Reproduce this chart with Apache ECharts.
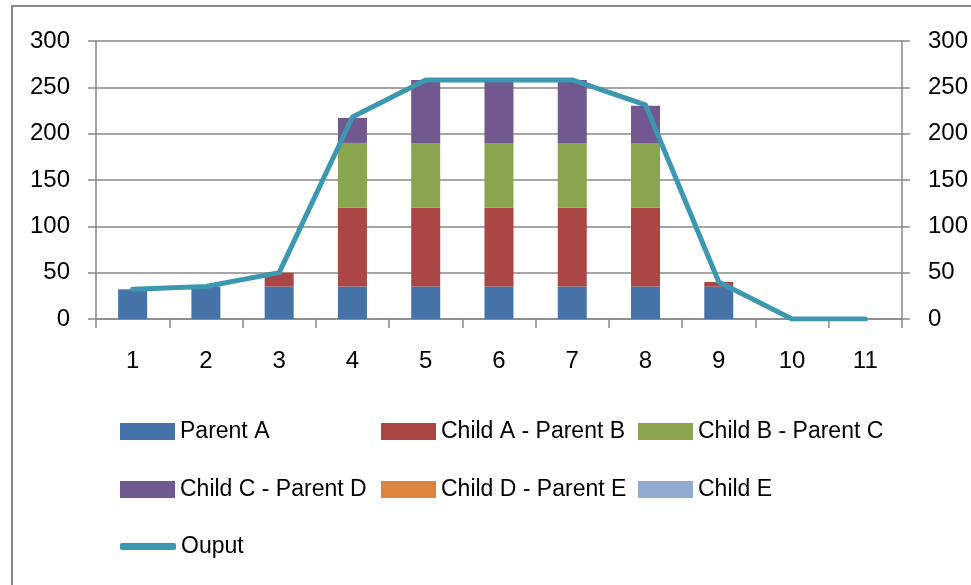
<!DOCTYPE html>
<html>
<head>
<meta charset="utf-8">
<script src="https://cdn.jsdelivr.net/npm/echarts@6/dist/echarts.min.js"></script>
<style>
  html, body { margin: 0; padding: 0; background: #fff; }
  #chart { width: 971px; height: 585px; }
</style>
</head>
<body>
<div id="chart"></div>
<script>
// values
var categories = ['1', '2', '3', '4', '5', '6', '7', '8', '9', '10', '11'];
var parentA = [32, 35, 35, 35, 35, 35, 35, 35, 35, 0, 0];
var childA = [0, 0, 15, 85, 85, 85, 85, 85, 5, 0, 0];
var childB = [0, 0, 0, 70, 70, 70, 70, 70, 0, 0, 0];
var childC = [0, 0, 0, 27, 68, 68, 68, 40, 0, 0, 0];
var childD = [0, 0, 0, 0, 0, 0, 0, 0, 0, 0, 0];
var childE = [0, 0, 0, 0, 0, 0, 0, 0, 0, 0, 0];
var output = [32, 35, 50, 218, 258, 258, 258, 231, 40, 0, 0];

var font = '"Liberation Sans", Arial, sans-serif';
var gray = '#888888';

function bar(name, data, color) {
    return {
        name: name,
        type: 'bar',
        stack: 'total',
        barWidth: 29,
        data: data,
        itemStyle: {color: color},
        emphasis: {disabled: true}
    };
}

// one legend per entry so the columns line up like the original
function leg(name, left, top, icon, w, h) {
    return {
        data: [{name: name, icon: icon || 'rect'}],
        left: left,
        top: top,
        padding: 0,
        itemWidth: w || 55,
        itemHeight: h || 17,
        itemGap: 0,
        selectedMode: false,
        textStyle: {fontFamily: font, fontSize: 23, color: '#000'}
    };
}

var myChart = echarts.init(document.getElementById('chart'), null, {renderer: 'canvas'});
var yAxisBase = {
    type: 'value',
    min: 0,
    max: 300,
    interval: 50,
    axisLine: {show: true, lineStyle: {color: gray, width: 1.5}},
    axisTick: {show: true, length: 8, lineStyle: {color: gray, width: 1.5}},
    axisLabel: {fontFamily: font, fontSize: 24, color: '#000', margin: 26},
    splitLine: {lineStyle: {color: gray, width: 1.5}}
};
var option = {
    backgroundColor: '#fff',
    animation: false,
    graphic: [{
        type: 'rect',
        shape: {x: 12, y: 6, width: 1000, height: 700},
        style: {fill: null, stroke: gray, lineWidth: 2}
    }],
    grid: {left: 96, right: 66, top: 41, bottom: 266},
    legend: [
        leg('Parent A', 120, 420),
        leg('Child A - Parent B', 381, 420),
        leg('Child B - Parent C', 638, 420),
        leg('Child C - Parent D', 120, 478),
        leg('Child D - Parent E', 381, 478),
        leg('Child E', 638, 478),
        leg('Ouput', 120, 535, 'roundRect', 56, 7)
    ],
    xAxis: {
        type: 'category',
        data: categories,
        axisLine: {lineStyle: {color: gray, width: 1.5}},
        axisTick: {show: true, length: 9, lineStyle: {color: gray, width: 1.5}},
        axisLabel: {fontFamily: font, fontSize: 24, color: '#000', margin: 30}
    },
    yAxis: [
        Object.assign({}, yAxisBase, {position: 'left'}),
        Object.assign({}, yAxisBase, {position: 'right', splitLine: {show: false}})
    ],
    series: [
        bar('Parent A', parentA, '#4572A7'),
        bar('Child A - Parent B', childA, '#AA4643'),
        bar('Child B - Parent C', childB, '#89A54E'),
        bar('Child C - Parent D', childC, '#71588F'),
        bar('Child D - Parent E', childD, '#DB843D'),
        bar('Child E', childE, '#93A9CF'),
        {
            name: 'Ouput',
            type: 'line',
            yAxisIndex: 1,
            data: output,
            symbol: 'none',
            showSymbol: false,
            itemStyle: {color: '#3C98B0'},
            lineStyle: {color: '#3C98B0', width: 5, cap: 'round', join: 'round'},
            emphasis: {disabled: true},
            z: 5
        }
    ]
};
myChart.setOption(option);
</script>
</body>
</html>
